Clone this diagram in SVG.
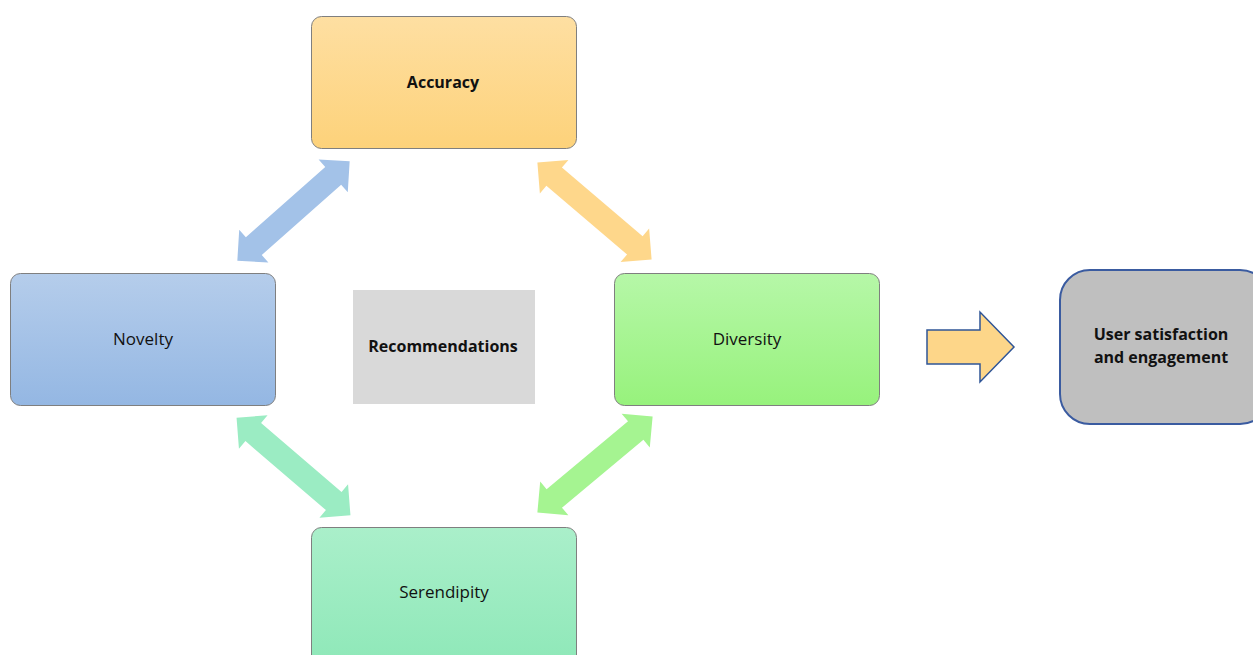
<svg xmlns="http://www.w3.org/2000/svg" width="1253" height="655" viewBox="0 0 1253 655">
  <style>
    .box { stroke: #7f7f7f; stroke-width: 1; }
    .lbl { font-family: "Open Sans", "Liberation Sans", sans-serif; font-size: 17px; fill: #111; text-anchor: middle; }
    .b { font-size: 16px; font-weight: bold; }
  </style>
  <defs>
    <linearGradient id="gOrange" x1="0" y1="0" x2="0" y2="1">
      <stop offset="0" stop-color="#fedfa2"/>
      <stop offset="1" stop-color="#fdd27a"/>
    </linearGradient>
    <linearGradient id="gBlue" x1="0" y1="0" x2="0" y2="1">
      <stop offset="0" stop-color="#b5cdeb"/>
      <stop offset="1" stop-color="#94b7e3"/>
    </linearGradient>
    <linearGradient id="gGreen" x1="0" y1="0" x2="0" y2="1">
      <stop offset="0" stop-color="#b6f7a8"/>
      <stop offset="1" stop-color="#97f27c"/>
    </linearGradient>
    <linearGradient id="gTeal" x1="0" y1="0" x2="0" y2="1">
      <stop offset="0" stop-color="#aaefca"/>
      <stop offset="1" stop-color="#8ee8b8"/>
    </linearGradient>
    <!-- double-headed block arrow, centred on the origin -->
    <path id="dbl" d="M -75 0 L -53 -22 L -53 -12 L 53 -12 L 53 -22 L 75 0 L 53 22 L 53 12 L -53 12 L -53 22 Z"/>
  </defs>

  <rect width="1253" height="655" fill="#ffffff"/>

  <g id="connectors">
    <use href="#dbl" fill="#a3c2e8" transform="translate(293.5 211) rotate(-41.5)"/>
    <use href="#dbl" fill="#fed78b" transform="translate(594.5 211) rotate(40.4)"/>
    <use href="#dbl" fill="#9becc3" transform="translate(293.5 466.5) rotate(40.6)"/>
    <use href="#dbl" fill="#a5f491" transform="translate(595 464.5) rotate(-39.8)"/>
    <path d="M 927 330 L 980 330 L 980 312 L 1014 347 L 980 382 L 980 364 L 927 364 Z" fill="#fdd689" stroke="#2f5597" stroke-width="1.5" stroke-linejoin="miter"/>
  </g>

  <g id="accuracy">
    <rect class="box" x="311.5" y="16.5" width="265" height="132" rx="10" fill="url(#gOrange)"/>
    <text class="lbl b" x="443" y="88">Accuracy</text>
  </g>

  <g id="novelty">
    <rect class="box" x="10.5" y="273.5" width="265" height="132" rx="10" fill="url(#gBlue)"/>
    <text class="lbl" x="143" y="345">Novelty</text>
  </g>

  <g id="diversity">
    <rect class="box" x="614.5" y="273.5" width="265" height="132" rx="10" fill="url(#gGreen)"/>
    <text class="lbl" x="747" y="345">Diversity</text>
  </g>

  <g id="serendipity">
    <rect class="box" x="311.5" y="527.5" width="265" height="140" rx="10" fill="url(#gTeal)"/>
    <text class="lbl" x="444" y="598">Serendipity</text>
  </g>

  <g id="recommendations">
    <rect x="353" y="290" width="182" height="114" fill="#d9d9d9"/>
    <text class="lbl b" x="443" y="352">Recommendations</text>
  </g>

  <g id="outcome">
    <rect x="1060" y="270" width="210" height="154" rx="30" fill="#bfbfbf" stroke="#3a5ba0" stroke-width="2"/>
    <text class="lbl b" x="1161" y="340">User satisfaction</text>
    <text class="lbl b" x="1161" y="363">and engagement</text>
  </g>
</svg>
